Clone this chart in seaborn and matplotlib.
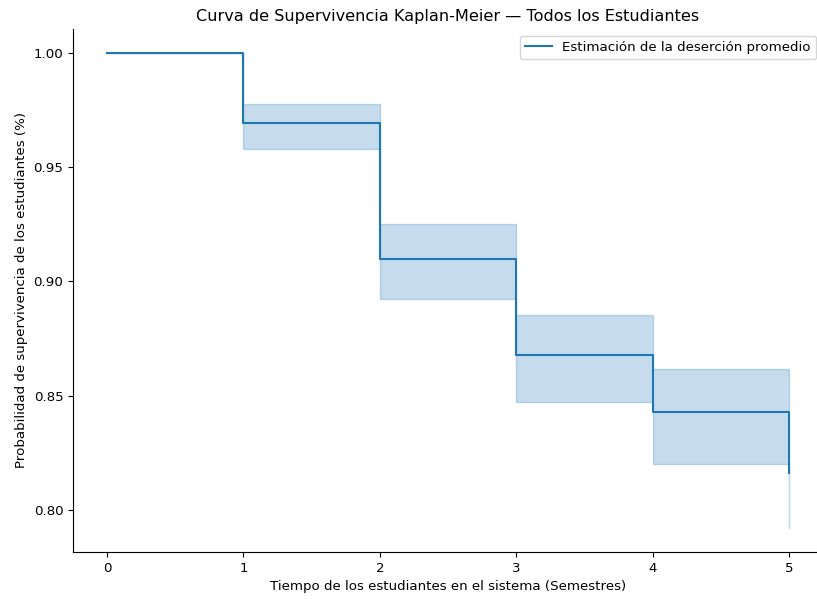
import matplotlib
matplotlib.use("Agg")
import matplotlib.pyplot as plt
import seaborn as sns
import numpy as np

tiempos = [0, 1, 2, 3, 4, 5]
supervivencia = [1.0, 0.9694, 0.9098, 0.8678, 0.8429, 0.8162]
ic_inferior = [1.0, 0.9580, 0.8923, 0.8473, 0.8201, 0.7921]
ic_superior = [1.0, 0.9777, 0.9252, 0.8853, 0.8617, 0.8400]
xticks = [0, 1, 2, 3, 4, 5]
yticks = [0.80, 0.85, 0.90, 0.95, 1.00]

plt.rcParams["font.size"] = 9.65
color = "#1f77b4"
fig = plt.figure(figsize=(8.17, 5.99), dpi=100)
ax = fig.add_axes([73 / 817, 1 - 552 / 599, (823 - 73) / 817, (552 - 29) / 599])

ax.fill_between(tiempos, ic_inferior, ic_superior, step="post",
                color=color, alpha=0.25, linewidth=1.0)
sns.lineplot(x=tiempos, y=supervivencia, drawstyle="steps-post", color=color,
             linewidth=1.5, label="Estimación de la deserción promedio", ax=ax)

ax.set_xlim(-0.25, 5.25)
ax.set_ylim(0.7816, 1.0105)
ax.set_xticks(xticks)
ax.set_yticks(yticks)
ax.set_yticklabels([f"{v:.2f}" for v in yticks])
ax.set_xlabel("Tiempo de los estudiantes en el sistema (Semestres)")
ax.set_ylabel("Probabilidad de supervivencia de los estudiantes (%)")
ax.set_title("Curva de Supervivencia Kaplan-Meier — Todos los Estudiantes", fontsize=11.6)
ax.legend(loc="upper right")
sns.despine(ax=ax)

fig.savefig("out.png", dpi=100)
